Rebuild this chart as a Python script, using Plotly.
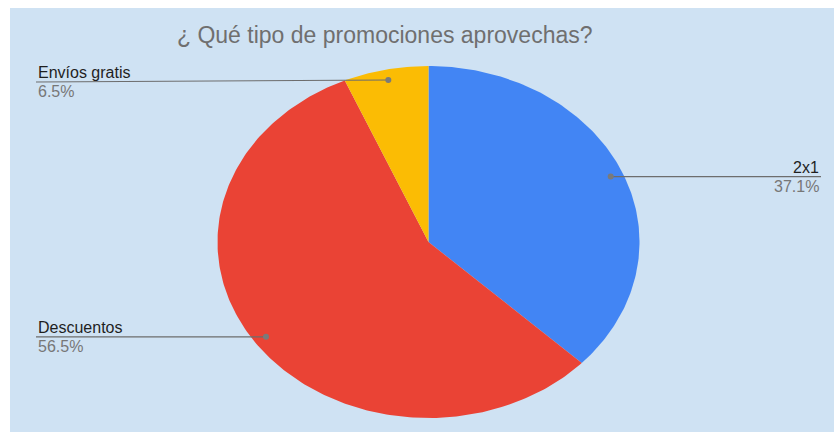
import numpy as np
import plotly.graph_objects as go

# Survey results: share of respondents by promotion type
categories = ["2x1", "Descuentos", "Envíos gratis"]
values = [37.1, 56.5, 6.5]
colors = ["#4285f4", "#ea4335", "#fbbc04"]
title_text = "¿ Qué tipo de promociones aprovechas?"

W, H = 834, 432
CX, CY = 428.5, 242.0      # pie centre (pixels)
RX, RY = 211.0, 176.0      # horizontal / vertical radii (oval pie)
ANCHOR_R = 0.94            # leader-line anchor, fraction of radius
BG = "#cfe2f3"

fig = go.Figure()

total = sum(values)
start = 0.0
anchors = []
for name, v, c in zip(categories, values, colors):
    frac = v / total
    a0, a1 = start * 2 * np.pi, (start + frac) * 2 * np.pi
    t = np.linspace(a0, a1, max(8, int(400 * frac)))
    xs = np.concatenate([[CX], CX + RX * np.sin(t), [CX]])
    ys = np.concatenate([[CY], CY - RY * np.cos(t), [CY]])
    fig.add_trace(go.Scatter(x=xs, y=ys, fill="toself", fillcolor=c,
                             mode="lines", line=dict(width=0, color=c),
                             hoverinfo="text", text=f"{name}: {v}%",
                             showlegend=False))
    mid = (start + frac / 2) * 2 * np.pi
    anchors.append((CX + ANCHOR_R * RX * np.sin(mid),
                    CY - ANCHOR_R * RY * np.cos(mid)))
    start += frac

# Leader lines: (label x end, line y at label side, side)
leaders = {
    "2x1": (821, None, "right"),
    "Descuentos": (36, None, "left"),
    "Envíos gratis": (36, 82, "left"),
}
line_col = "#6d6d6d"
font_family = "Arial, Liberation Sans"
annotations = []
for (name, v), (ax, ay) in zip(zip(categories, values), anchors):
    lx, ly, side = leaders[name]
    ly = ay if ly is None else ly
    fig.add_trace(go.Scatter(x=[lx, ax], y=[ly, ay], mode="lines",
                             line=dict(color=line_col, width=1.2),
                             hoverinfo="skip", showlegend=False))
    fig.add_trace(go.Scatter(x=[ax], y=[ay], mode="markers",
                             marker=dict(size=6, color="#7a7a7a"),
                             hoverinfo="skip", showlegend=False))
    anchor = "right" if side == "right" else "left"
    annotations.append(dict(x=lx, y=ly - 9.5, xref="x", yref="y", text=name,
                            showarrow=False, xanchor=anchor, yanchor="middle",
                            font=dict(family=font_family, size=16,
                                      color="#1f1f1f")))
    annotations.append(dict(x=lx, y=ly + 9.5, xref="x", yref="y",
                            text=f"{v}%", showarrow=False, xanchor=anchor,
                            yanchor="middle",
                            font=dict(family=font_family, size=16,
                                      color="#777777")))

annotations.append(dict(x=385, y=35, xref="x", yref="y", text=title_text,
                        showarrow=False, xanchor="center", yanchor="middle",
                        font=dict(family=font_family, size=23,
                                  color="#6f6f6f")))

fig.update_layout(
    width=W, height=H,
    margin=dict(l=0, r=0, t=0, b=0),
    paper_bgcolor=BG,
    plot_bgcolor="rgba(0,0,0,0)",
    xaxis=dict(range=[0, W], visible=False, fixedrange=True),
    yaxis=dict(range=[H, 0], visible=False, fixedrange=True),
    shapes=[
        # white frame along the top and left edges
        dict(type="rect", xref="paper", yref="paper",
             x0=0, x1=1, y0=1 - 8 / H, y1=1,
             fillcolor="white", line=dict(width=0), layer="below"),
        dict(type="rect", xref="paper", yref="paper",
             x0=0, x1=10 / W, y0=0, y1=1,
             fillcolor="white", line=dict(width=0), layer="below"),
    ],
    annotations=annotations,
)

fig.write_html("out.html")
